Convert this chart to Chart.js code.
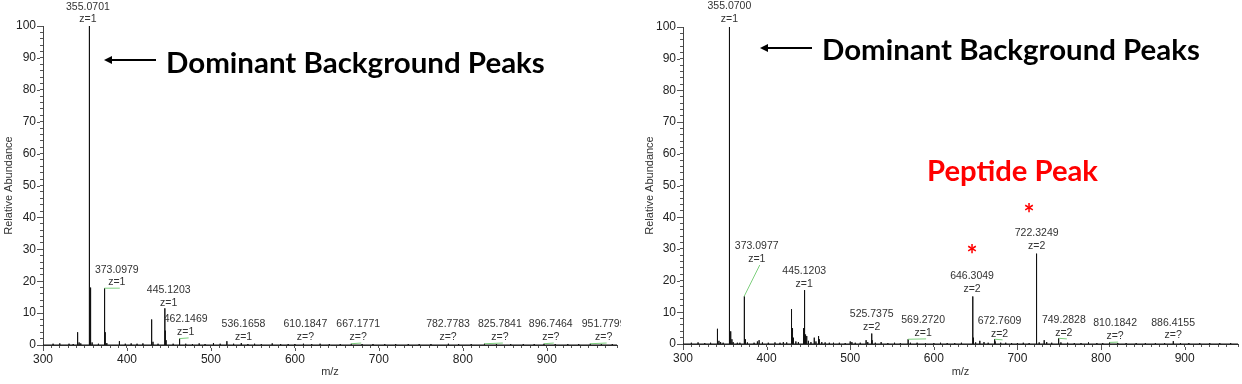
<!DOCTYPE html>
<html>
<head>
<meta charset="utf-8">
<script src="https://cdn.jsdelivr.net/npm/chart.js@4.4.1/dist/chart.umd.min.js"></script>
<style>
  body { margin: 0; background: #fff; }
  #wrap { position: relative; width: 1242px; height: 384px; overflow: hidden; }
  canvas { position: absolute; top: 0; }
  .note { position: absolute; font-family: Lato, "Open Sans", sans-serif; font-weight: 700; line-height: 1; white-space: nowrap; }
  .red { color: #ff0000; }
  svg { position: absolute; left: 0; top: 0; }
</style>
</head>
<body>
<div id="wrap">
  <canvas id="leftChart" width="621" height="384" style="left:0"></canvas>
  <canvas id="rightChart" width="621" height="384" style="left:621px"></canvas>
  <div class="note" id="leftTitle">Dominant Background Peaks</div>
  <div class="note" id="rightTitle">Dominant Background Peaks</div>
  <div class="note red" id="peptide">Peptide Peak</div>
  <div class="note red" id="star1">*</div>
  <div class="note red" id="star2">*</div>
  <svg width="1242" height="384">
    <line x1="110" y1="60" x2="156" y2="60" stroke="#000" stroke-width="2"/>
    <polygon points="104,60 112,56 112,64" fill="#000"/>
    <line x1="766" y1="48" x2="812" y2="48" stroke="#000" stroke-width="2"/>
    <polygon points="760,48 768,44 768,52" fill="#000"/>
  </svg>
</div>
<script>
// left spectrum: peak m/z and relative abundance
const leftMz = [312, 320, 331, 336, 340.8, 341.5, 343, 345, 355.07, 355.4, 356.07, 357.07, 358.5, 366,
  373.10, 373.5, 374.1, 376, 391, 398, 405, 412, 419, 429.1, 429.6, 431, 437, 445.12, 445.6, 446.6, 455,
  462.15, 463, 470, 478, 486, 493, 503, 511, 519, 527, 536.17, 544, 552, 560, 573, 583, 592, 600, 610.18,
  620, 630, 641, 654, 667.18, 680, 693, 707, 720, 735, 748, 762, 782.78, 795, 810, 825.78, 840, 857, 872,
  885, 896.75, 910, 925, 938, 951.78, 965, 978];
const leftInt = [0.4, 0.5, 0.4, 0.3, 4.0, 1.2, 0.8, 0.5, 100, 34, 18, 3.5, 0.8, 0.4,
  17.8, 6.5, 4, 0.6, 1.2, 0.4, 0.5, 0.4, 0.5, 8, 2.5, 1, 0.4, 11.5, 4.5, 1.5, 0.4,
  2, 0.8, 0.4, 0.3, 0.5, 0.3, 0.6, 0.4, 1.2, 0.4, 0.6, 0.3, 0.4, 0.3, 0.5, 0.3, 0.3, 0.3, 0.4,
  0.3, 0.4, 0.3, 0.3, 0.4, 0.3, 0.3, 0.3, 0.3, 0.3, 0.3, 0.3, 0.4, 0.3, 0.3, 0.4, 0.3, 0.3, 0.3,
  0.3, 0.4, 0.3, 0.3, 0.3, 0.4, 0.3, 0.3];

// left annotations: text, charge, label centre (m/z) and label height (abundance)
const leftLabelText = ['355.0701', '373.0979', '445.1203', '462.1469', '536.1658', '610.1847',
  '667.1771', '782.7783', '825.7841', '896.7464', '951.7799'];
const leftLabelZ = ['z=1', 'z=1', 'z=1', 'z=1', 'z=1', 'z=?', 'z=?', 'z=?', 'z=?', 'z=?', 'z=?'];
const leftLabelMz = [353.5, 387.9, 449.7, 469.9, 538.8, 612.5, 675.4, 782.4, 844.1, 904.7, 967.7];
const leftLabelAt = [102.1, 19.7, 13.2, 4.1, 2.5, 2.5, 2.5, 2.5, 2.5, 2.5, 2.5];

// right spectrum
const rightMz = [310, 318, 326, 333, 340.8, 341.5, 343, 345, 348, 355.07, 355.4, 356.07, 357.07, 358.5, 360,
  365, 368, 373.10, 373.6, 374.6, 377, 385, 389, 391, 395, 402, 410, 416, 420, 424,
  429.5, 430, 431, 432, 435, 438, 444.2, 445.12, 445.6, 446.6, 448, 450, 453,
  457, 459, 462.15, 463, 466, 470, 475, 480, 487, 494,
  500, 502, 506, 512, 519, 521, 525.74, 526.2, 530, 537, 545, 553, 560,
  569.27, 572, 580, 590, 600, 608, 616, 625, 633,
  646.30, 646.8, 647.3, 650, 655, 660, 665, 672.76, 673.3, 680, 686, 693, 700, 707, 714,
  722.32, 722.8, 723.3, 726, 732, 735, 741, 749.28, 752, 760, 768, 776, 785, 795, 802,
  810.18, 820, 830, 842, 853, 865, 876, 886.42, 895, 905, 918, 930, 942, 955];
const rightInt = [0.4, 0.5, 0.3, 0.4, 4.8, 1.5, 1, 0.6, 0.4, 100, 32, 17.5, 4, 1.5, 0.6,
  0.4, 0.4, 15, 3.5, 1.5, 0.5, 0.4, 0.8, 1.2, 0.5, 0.4, 0.5, 0.4, 0.6, 0.5,
  11, 4, 5, 2, 0.8, 0.6, 5, 17, 6.5, 3, 2.5, 1, 0.6,
  2, 0.8, 2.5, 1.5, 0.6, 0.5, 0.4, 0.4, 0.4, 0.3,
  0.8, 0.6, 0.4, 0.4, 1.2, 0.6, 3.3, 1.2, 0.4, 0.6, 0.3, 0.4, 0.3,
  1.5, 0.4, 0.4, 0.3, 0.3, 0.4, 0.3, 0.3, 0.4,
  15, 9.8, 2, 0.5, 1, 0.6, 0.4, 1.5, 0.8, 0.4, 0.4, 0.3, 0.3, 0.4, 0.3,
  28.5, 9.5, 2, 0.5, 1.2, 0.6, 0.4, 1.8, 0.5, 0.4, 0.3, 0.3, 0.5, 0.3, 0.3,
  0.5, 0.3, 0.3, 0.3, 0.3, 0.3, 0.3, 0.9, 0.3, 0.3, 0.3, 0.3, 0.3, 0.3];

const rightLabelText = ['355.0700', '373.0977', '445.1203', '525.7375', '569.2720', '646.3049',
  '672.7609', '722.3249', '749.2828', '810.1842', '886.4155'];
const rightLabelZ = ['z=1', 'z=1', 'z=1', 'z=2', 'z=1', 'z=2', 'z=2', 'z=2', 'z=2', 'z=?', 'z=?'];
const rightLabelMz = [355.5, 388.2, 445.0, 525.7, 587.2, 645.7, 678.6, 723.0, 755.5, 816.8, 886.2];
const rightLabelAt = [102.5, 26.8, 18.9, 5.4, 3.5, 17.4, 3.2, 30.9, 3.5, 2.5, 2.8];

const FONT = '"Liberation Sans", Arial, sans-serif';

// sticks: baseline -> peak top -> baseline for every peak
function stickData(mz, inten, xmin, xmax) {
    const pts = [{ x: xmin, y: 0 }];
    mz.forEach((m, i) => {
        pts.push({ x: m, y: 0 }, { x: m, y: inten[i] }, { x: m, y: 0 });
    });
    pts.push({ x: xmax, y: 0 });
    return pts;
}

const peakLabels = {
    id: 'peakLabels',
    afterDatasetsDraw(chart, args, opts) {
        const { ctx } = chart;
        const xs = chart.scales.x, ys = chart.scales.y;
        ctx.save();
        ctx.font = '10.5px ' + FONT;
        ctx.textAlign = 'center';
        ctx.textBaseline = 'middle';
        opts.text.forEach((t, i) => {
            const px = xs.getPixelForValue(opts.mz[i]);
            const py = ys.getPixelForValue(opts.at[i]);
            // find the peak this label belongs to
            const target = parseFloat(t);
            let k = 0;
            opts.peakMz.forEach((m, j) => {
                if (Math.abs(m - target) < Math.abs(opts.peakMz[k] - target)) k = j;
            });
            const qx = xs.getPixelForValue(opts.peakMz[k]);
            const qy = ys.getPixelForValue(opts.peakInt[k]);
            if (Math.abs(qx - px) > 4) {
                ctx.strokeStyle = '#7dcf7d';
                ctx.lineWidth = 1;
                ctx.beginPath();
                ctx.moveTo(qx, qy);
                ctx.lineTo(px + 3, py + 6);
                ctx.stroke();
            }
            ctx.fillStyle = '#333';
            ctx.fillText(t, px, py - 12.5);
            ctx.fillText(opts.charge[i], px, py);
        });
        ctx.restore();
    },
    // longer marks for the labelled ticks
    afterDraw(chart) {
        const { ctx } = chart;
        const xs = chart.scales.x, ys = chart.scales.y;
        ctx.save();
        ctx.strokeStyle = '#555';
        ctx.lineWidth = 1;
        ctx.beginPath();
        xs.ticks.forEach(t => {
            if (t.value % 100 !== 0) return;
            const px = Math.round(xs.getPixelForValue(t.value)) + 0.5;
            ctx.moveTo(px, xs.top + 3);
            ctx.lineTo(px, xs.top + 6);
        });
        ys.ticks.forEach(t => {
            if (t.value % 10 !== 0) return;
            const py = Math.round(ys.getPixelForValue(t.value)) + 0.5;
            ctx.moveTo(ys.right - 3, py);
            ctx.lineTo(ys.right - 6, py);
        });
        ctx.stroke();
        ctx.restore();
    }
};

function makeSpectrum(id, mz, inten, xmax, lab, box) {
    const ctx = document.getElementById(id).getContext('2d');
    return new Chart(ctx, {
        type: 'scatter',
        data: {
            datasets: [{
                data: stickData(mz, inten, 300, xmax),
                showLine: true,
                borderColor: '#111',
                borderWidth: 1,
                pointRadius: 0,
                tension: 0,
                clip: false
            }]
        },
        options: {
            responsive: false,
            animation: false,
            layout: { padding: { left: box.padLeft, right: box.padRight, top: box.top, bottom: 0 } },
            plugins: {
                legend: { display: false },
                tooltip: { enabled: false },
                peakLabels: lab
            },
            scales: {
                x: {
                    type: 'linear',
                    min: 300,
                    max: xmax,
                    afterFit: s => { s.height = box.xHeight; },
                    grid: { drawOnChartArea: false, drawTicks: true, tickLength: 3, color: '#555' },
                    border: { display: true, color: '#444' },
                    ticks: {
                        stepSize: 10,
                        autoSkip: false,
                        maxRotation: 0,
                        padding: 4,
                        color: '#222',
                        font: { family: FONT, size: 12 },
                        callback: v => (v % 100 === 0 ? v : '')
                    },
                    title: { display: true, text: 'm/z', color: '#333', font: { family: FONT, size: 11 }, padding: { top: 0, bottom: 5 } }
                },
                y: {
                    min: 0,
                    max: 100,
                    afterFit: s => { s.width = box.yWidth; },
                    grid: { drawOnChartArea: false, drawTicks: true, tickLength: 3, color: '#555' },
                    border: { display: true, color: '#444' },
                    ticks: {
                        stepSize: 2,
                        autoSkip: false,
                        padding: 4,
                        color: '#222',
                        font: { family: FONT, size: 12 },
                        callback: v => (v % 10 === 0 ? v : '')
                    },
                    title: { display: true, text: 'Relative Abundance', color: '#333', font: { family: FONT, size: 11 }, padding: { top: 2, bottom: 0 } }
                }
            }
        },
        plugins: [peakLabels]
    });
}

makeSpectrum('leftChart', leftMz, leftInt, 983.6,
    { text: leftLabelText, charge: leftLabelZ, mz: leftLabelMz, at: leftLabelAt, peakMz: leftMz, peakInt: leftInt },
    { padLeft: 0, padRight: 3, top: 26, xHeight: 39, yWidth: 43 });
makeSpectrum('rightChart', rightMz, rightInt, 963.8,
    { text: rightLabelText, charge: rightLabelZ, mz: rightLabelMz, at: rightLabelAt, peakMz: rightMz, peakInt: rightInt },
    { padLeft: 20, padRight: 0, top: 27, xHeight: 40, yWidth: 42 });

// overlay captions, sized to the widths in the original slide
function fit(id, left, centerY, width, size) {
    const el = document.getElementById(id);
    el.style.fontSize = '100px';
    const w = el.getBoundingClientRect().width;
    const fs = size || 100 * width / w;
    el.style.fontSize = fs + 'px';
    const h = el.getBoundingClientRect().height;
    el.style.left = (size ? left - el.getBoundingClientRect().width / 2 : left) + 'px';
    el.style.top = (centerY - h / 2) + 'px';
}
fit('leftTitle', 166, 62, 379);
fit('rightTitle', 822, 49, 378);
fit('peptide', 927, 170, 171);
fit('star1', 972, 254, 0, 26);
fit('star2', 1029, 213, 0, 26);
</script>
</body>
</html>
